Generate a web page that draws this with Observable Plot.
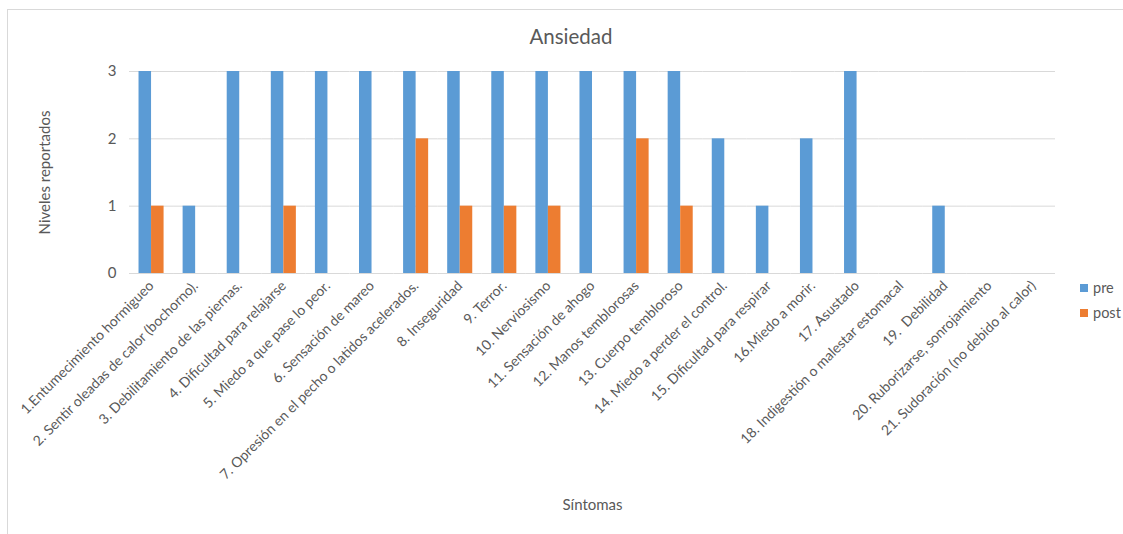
<!DOCTYPE html>
<html>
<head>
<meta charset="utf-8">
<script src="https://cdn.jsdelivr.net/npm/d3@7"></script>
<script src="https://cdn.jsdelivr.net/npm/@observablehq/plot@0.6"></script>
<style>
  html, body { margin: 0; padding: 0; background: #fff; }
  #wrap { position: relative; width: 1123px; height: 534px; overflow: hidden; font-family: Lato, "Open Sans", sans-serif; color: #595959; }
  #frame { position: absolute; left: 7px; top: 9px; width: 1130px; height: 540px; border: 1px solid #d9d9d9; box-sizing: border-box; }
  #title { position: absolute; left: 0; width: 1142px; top: 24px; text-align: center; font-size: 20.5px; color: #595959; }
  #legend { position: absolute; left: 1080px; top: 275px; font-size: 14.5px; color: #595959; }
  #legend div { display: flex; align-items: center; height: 25px; }
  #legend span.sw { display: inline-block; width: 8px; height: 8px; margin-right: 5px; }
  #chart { position: absolute; left: 0; top: 0; }
  #chart svg g[aria-label="y-axis label"] text, #chart svg g[aria-label="fx-axis label"] text { font-size: 15px; }
</style>
</head>
<body>
<div id="wrap">
  <div id="frame"></div>
  <div id="title">Ansiedad</div>
  <div id="chart"></div>
  <div id="legend"></div>
</div>
<script>
const categories = [
  "1.Entumecimiento hormigueo",
  "2. Sentir oleadas de calor (bochorno).",
  "3. Debilitamiento de las piernas.",
  "4. Dificultad para relajarse",
  "5. Miedo a que pase lo peor.",
  "6. Sensación de mareo",
  "7. Opresión en el pecho o latidos acelerados.",
  "8. Inseguridad",
  "9. Terror.",
  "10. Nerviosismo",
  "11. Sensación de ahogo",
  "12. Manos temblorosas",
  "13. Cuerpo tembloroso",
  "14. Miedo a perder el control.",
  "15. Dificultad para respirar",
  "16.Miedo a morir.",
  "17. Asustado",
  "18. Indigestión o malestar estomacal",
  "19.  Debilidad",
  "20. Ruborizarse, sonrojamiento",
  "21. Sudoración (no debido al calor)"
];
const series = ["pre", "post"];
const pre  = [3, 1, 3, 3, 3, 3, 3, 3, 3, 3, 3, 3, 3, 2, 1, 2, 3, 0, 1, 0, 0];
const post = [1, 0, 0, 1, 0, 0, 2, 1, 1, 1, 0, 2, 1, 0, 0, 0, 0, 0, 0, 0, 0];
const yTicks = [0, 1, 2, 3];
const colors = ["#5B9BD5", "#ED7D31"];

const data = categories.flatMap((c, i) => [
  {sintoma: c, serie: "pre", valor: pre[i]},
  {sintoma: c, serie: "post", valor: post[i]}
]);

const chart = Plot.plot({
  width: 1123,
  height: 534,
  marginLeft: 129,
  marginRight: 68,
  marginTop: 71,
  marginBottom: 261,
  style: {fontFamily: "Lato, 'Open Sans', sans-serif", fontSize: "13px", color: "#595959", background: "transparent", overflow: "visible"},
  fx: {domain: categories, padding: 0, round: false},
  x: {domain: series, paddingInner: 0, paddingOuter: 0.76, round: false, axis: null},
  y: {domain: [0, 3]},
  color: {domain: series, range: colors},
  marks: [
    Plot.ruleY(yTicks.filter(t => t > 0), {stroke: "#d9d9d9", strokeWidth: 1}),
    Plot.barY(data, {fx: "sintoma", x: "serie", y: "valor", fill: "serie"}),
    Plot.ruleY([0], {stroke: "#d9d9d9", strokeWidth: 1}),
    Plot.axisFx({anchor: "bottom", tickRotate: -45, tickSize: 0, tickPadding: 10, fontSize: 14, label: "Síntomas", labelAnchor: "center", labelOffset: 236}),
    Plot.axisY({anchor: "left", facetAnchor: "left", ticks: yTicks, tickFormat: "d", tickSize: 0, tickPadding: 13, fontSize: 15, label: "Niveles reportados", labelAnchor: "center", labelOffset: 90, labelArrow: "none"})
  ]
});
document.getElementById("chart").appendChild(chart);

const legend = document.getElementById("legend");
series.forEach((s, i) => {
  const row = document.createElement("div");
  row.innerHTML = `<span class="sw" style="background:${colors[i]}"></span>${s}`;
  legend.appendChild(row);
});
</script>
</body>
</html>
